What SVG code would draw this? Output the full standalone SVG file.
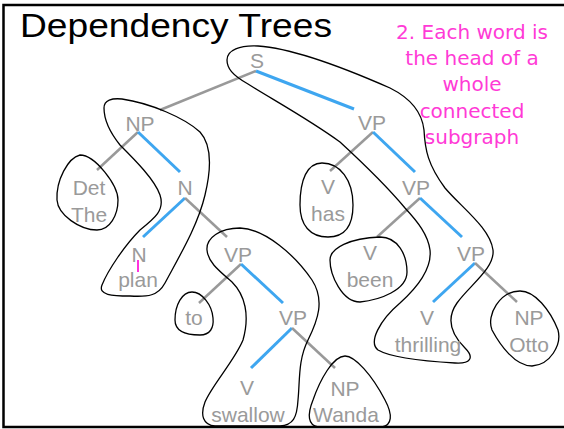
<svg xmlns="http://www.w3.org/2000/svg" width="564" height="429" viewBox="0 0 564 429">
<style>
.lbl{font-family:"Liberation Sans",Arial,sans-serif;font-size:21px;fill:#9a9a9a;text-anchor:middle}
.g{stroke:#999;stroke-width:2.5;fill:none}
.b{stroke:#3ea6f0;stroke-width:3;fill:none}
.blob{stroke:#000;stroke-width:1.3;fill:none}
.pink{font-family:"Comic Sans MS","DejaVu Sans",sans-serif;font-size:20px;fill:#ff3ad6;text-anchor:middle}
</style>
<rect width="564" height="429" fill="#fff"/>
<path d="M566,5 H3.5 V427 H566" fill="none" stroke="#000" stroke-width="2.5"/>
<text x="20" y="37" font-family="'Liberation Sans',Arial,sans-serif" font-size="33" fill="#000" textLength="312" lengthAdjust="spacingAndGlyphs">Dependency Trees</text>
<g id="note">
<text class="pink" x="472" y="39">2. Each word is</text>
<text class="pink" x="472" y="65">the head of a</text>
<text class="pink" x="472" y="91">whole</text>
<text class="pink" x="472" y="118">connected</text>
<text class="pink" x="472" y="144">subgraph</text>
</g>
<g id="connectors">
<line class="g" x1="256" y1="71" x2="160" y2="110"/>
<line class="b" x1="256" y1="71" x2="354" y2="109"/>
<line class="g" x1="138" y1="132" x2="97" y2="170"/>
<line class="b" x1="138" y1="132" x2="180" y2="172"/>
<line class="b" x1="185" y1="198" x2="143" y2="237"/>
<line class="g" x1="185" y1="198" x2="227" y2="237"/>
<line class="g" x1="241" y1="264" x2="199" y2="303"/>
<line class="b" x1="241" y1="264" x2="283" y2="303"/>
<line class="b" x1="292" y1="328" x2="251" y2="368"/>
<line class="g" x1="292" y1="328" x2="335" y2="368"/>
<line class="g" x1="373" y1="132" x2="330" y2="171"/>
<line class="b" x1="373" y1="132" x2="415" y2="172"/>
<line class="g" x1="420" y1="198" x2="377" y2="237"/>
<line class="b" x1="420" y1="198" x2="462" y2="237"/>
<line class="b" x1="475" y1="263" x2="433" y2="302"/>
<line class="g" x1="475" y1="263" x2="517" y2="302"/>
</g>
<g id="subgraphs">
<path class="blob" d="M227,60 C227,50 240,45 258,46 C290,48 340,66 390,88 C410,98 422,112 424,130 C425,150 428,165 445,188 C462,208 490,228 493,250 C495,268 470,285 457,303 C445,320 452,335 465,348 C475,358 470,364 455,363 C420,361 390,357 378,350 C368,342 380,320 400,303 C420,285 432,268 430,250 C428,235 418,222 405,208 C390,190 365,165 340,142 C310,120 270,98 248,84 C232,75 227,68 227,60 Z"/>
<path class="blob" d="M104,108 C104,100 112,98 122,99 C150,103 185,118 200,132 C212,145 211,170 205,195 C198,225 180,255 165,283 C158,296 148,297 130,296 C112,296 98,295 102,285 C108,270 125,245 140,230 C155,218 165,210 160,195 C155,180 135,160 120,145 C108,130 104,118 104,108 Z"/>
<path class="blob" d="M80,155 C68,158 56,180 57,200 C58,215 80,230 97,230 C110,230 118,215 118,200 C118,185 95,155 80,155 Z"/>
<path class="blob" d="M192,292 C182,292 175,305 175,320 C175,332 188,335 200,335 C210,335 214,328 213,318 C212,305 202,292 192,292 Z"/>
<path class="blob" d="M207,250 C206,238 220,228 240,228 C265,229 295,255 312,280 C325,300 318,320 308,340 C298,360 300,380 298,400 C297,418 293,425 280,426 L215,426 C203,425 200,415 205,402 C212,385 235,360 243,340 C250,315 245,295 232,282 C218,270 208,262 207,250 Z"/>
<path class="blob" d="M345,356 C355,356 372,375 385,400 C393,415 392,425 382,427 L318,427 C308,425 307,415 313,400 C320,380 333,356 345,356 Z"/>
<path class="blob" d="M322,163 C307,163 300,180 300,205 C300,225 310,237 328,237 C345,237 353,225 353,205 C353,180 340,163 322,163 Z"/>
<path class="blob" d="M330,260 C330,248 350,238 380,237 C398,237 407,255 407,272 C407,290 380,300 360,302 C342,302 330,275 330,260 Z"/>
<path class="blob" d="M520,291 C535,291 550,310 558,330 C562,345 550,365 532,366 C515,366 500,345 492,330 C486,315 500,291 520,291 Z"/>
</g>
<g id="n-S"><text class="lbl" x="257" y="68">S</text></g>
<g id="n-NP1"><text class="lbl" x="140" y="131">NP</text></g>
<g id="n-VP1"><text class="lbl" x="372" y="130">VP</text></g>
<g id="n-Det"><text class="lbl" x="89" y="195">Det</text><text class="lbl" x="89" y="222">The</text></g>
<g id="n-N1"><text class="lbl" x="185" y="195">N</text></g>
<g id="n-has"><text class="lbl" x="328" y="194">V</text><text class="lbl" x="328" y="221">has</text></g>
<g id="n-VP2"><text class="lbl" x="416" y="195">VP</text></g>
<g id="n-plan"><text class="lbl" x="139" y="262">N</text><text class="lbl" x="138" y="287">plan</text><line x1="138" y1="260" x2="138" y2="272" stroke="#ff33dd" stroke-width="2"/></g>
<g id="n-VP3"><text class="lbl" x="238" y="262">VP</text></g>
<g id="n-been"><text class="lbl" x="370" y="260">V</text><text class="lbl" x="370" y="287">been</text></g>
<g id="n-VP4"><text class="lbl" x="471" y="261">VP</text></g>
<g id="n-to"><text class="lbl" x="194" y="325">to</text></g>
<g id="n-VP5"><text class="lbl" x="293" y="325">VP</text></g>
<g id="n-thrilling"><text class="lbl" x="427" y="325">V</text><text class="lbl" x="428" y="352">thrilling</text></g>
<g id="n-Otto"><text class="lbl" x="529" y="325">NP</text><text class="lbl" x="529" y="352">Otto</text></g>
<g id="n-swallow"><text class="lbl" x="247" y="395">V</text><text class="lbl" x="248" y="422">swallow</text></g>
<g id="n-Wanda"><text class="lbl" x="345" y="396">NP</text><text class="lbl" x="346" y="422">Wanda</text></g>
</svg>
